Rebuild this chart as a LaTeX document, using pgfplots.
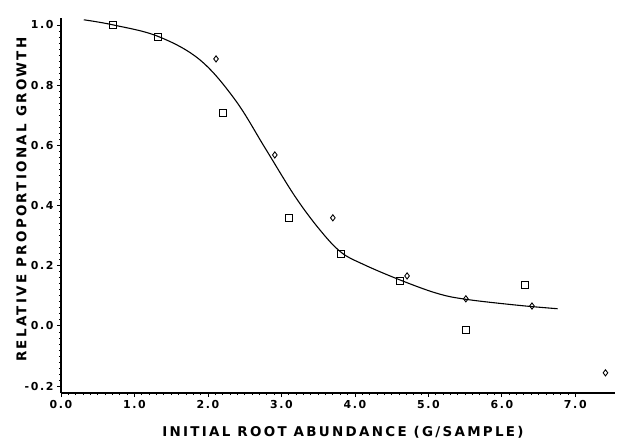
\documentclass[border=0pt]{standalone}
\usepackage{pgfplots}
\pgfplotsset{compat=1.18}
\usepackage{fontspec}
\setmainfont{DejaVu Sans}[BoldFont={DejaVu Sans Bold}]
\newfontfamily\lblfont{DejaVu Sans Bold}[LetterSpace=17]
\newfontfamily\tickfont{DejaVu Sans Bold}[LetterSpace=15]
\begin{document}
\begin{tikzpicture}
\useasboundingbox (-61bp,-51bp) rectangle (558bp,393bp);
\begin{axis}[
  at={(0,0)}, anchor=south west,
  scale only axis, width=554bp, height=375bp,
  xmin=0, xmax=7.54, ymin=-0.223, ymax=1.023,
  axis x line*=bottom, axis y line*=left,
  axis line style={line width=1.1pt},
  xtick={0,1,...,7}, ytick={-0.2,0,0.2,0.4,0.6,0.8,1.0},
  minor tick num=9,
  tick align=outside,
  major tick length=4bp, minor tick length=2bp,
  every tick/.style={black, line width=0.8pt},
  /pgf/number format/assume math mode=true,
  /pgf/number format/.cd, fixed, fixed zerofill, precision=1,
  /pgfplots/.cd,
  tick label style={font=\tickfont\fontsize{11}{12}\selectfont},
  xlabel={\lblfont\fontsize{13.5}{15}\selectfont INITIAL ROOT ABUNDANCE (G/SAMPLE)},
  ylabel={\lblfont\fontsize{13.5}{15}\selectfont RELATIVE PROPORTIONAL GROWTH},
  xlabel style={at={(axis description cs:0.5,0)}, anchor=north, yshift=-30bp, xshift=5bp},
  ylabel style={at={(axis description cs:0,0.5)}, anchor=south, yshift=31bp, xshift=6bp},
  clip=false,
]
% fitted curve
\addplot[black, line width=1.1pt, smooth, tension=0.6, no marks] coordinates {
(0.31,1.017) (0.71,1.000) (1.32,0.962) (1.89,0.884) (2.37,0.751)
(2.78,0.590) (3.18,0.432) (3.52,0.320) (3.81,0.245) (4.11,0.205)
(4.61,0.153) (5.12,0.108) (5.52,0.088) (6.24,0.068) (6.76,0.057)
};
% squares
\addplot[only marks, mark=square, mark size=3.5bp, black, line width=0.9pt, mark options={fill=white}] coordinates {
(0.71,1.000) (1.32,0.960) (2.20,0.708) (3.10,0.359) (3.81,0.239)
(4.61,0.150) (5.51,-0.013) (6.31,0.136)
};
% diamonds
\addplot[only marks, mark=diamond, mark size=3.1bp, black, line width=0.9pt, mark options={fill=white}] coordinates {
(2.11,0.887) (2.91,0.568) (3.70,0.359) (4.71,0.166) (5.51,0.090)
(6.41,0.066) (7.41,-0.156)
};
\end{axis}
\end{tikzpicture}
\end{document}
